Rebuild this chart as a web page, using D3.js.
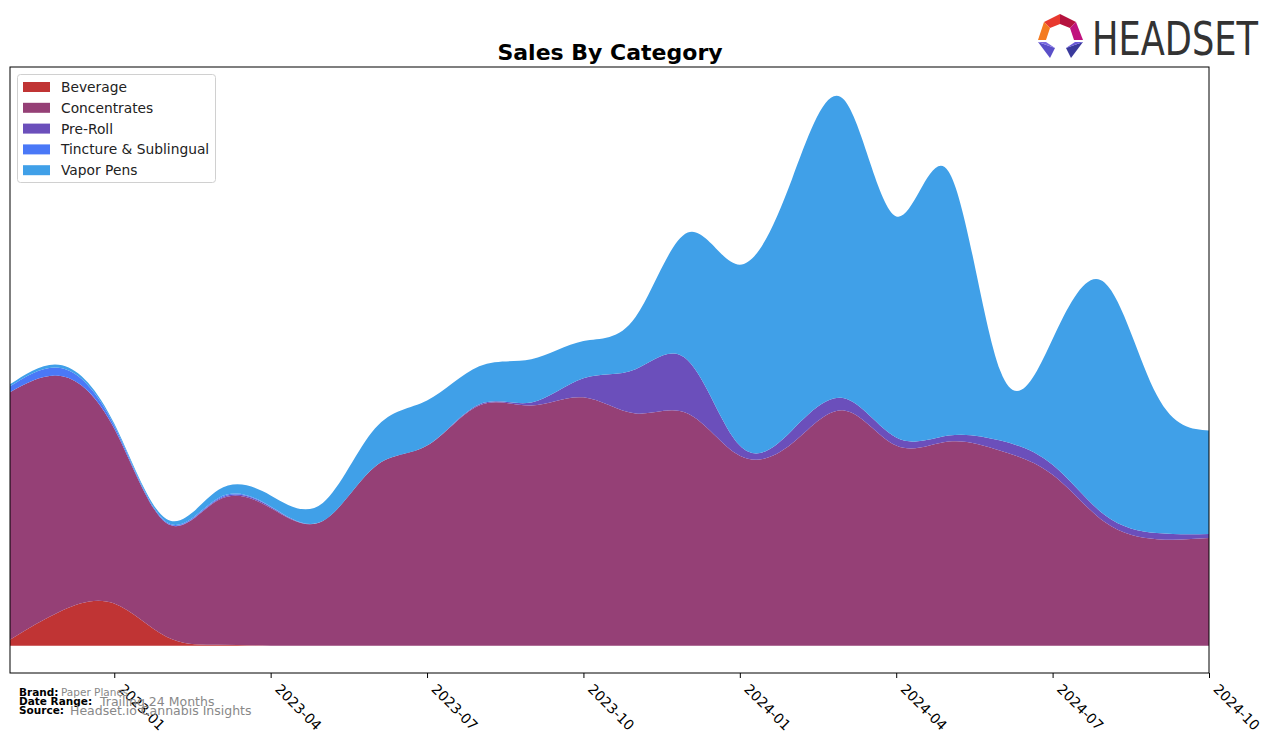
<!DOCTYPE html>
<html>
<head>
<meta charset="utf-8">
<script src="https://cdn.jsdelivr.net/npm/d3@7"></script>
<style>
  body { margin: 0; background: #fff; }
  svg { display: block; font-family: "DejaVu Sans", sans-serif; }
</style>
</head>
<body>
<svg id="chart" width="1276" height="743"></svg>
<script>
// ---------- data (monthly, 2022-11 .. 2024-10) ----------
const months = ["2022-11","2022-12","2023-01","2023-02","2023-03","2023-04","2023-05","2023-06",
  "2023-07","2023-08","2023-09","2023-10","2023-11","2023-12","2024-01","2024-02","2024-03",
  "2024-04","2024-05","2024-06","2024-07","2024-08","2024-09","2024-10"];
const categories = ["Beverage","Concentrates","Pre-Roll","Tincture & Sublingual","Vapor Pens"];
const beverage     = [6, 35, 42, 9, 1, 0, 0, 0, 0, 0, 0, 0, 0, 0, 0, 0, 0, 0, 0, 0, 0, 0, 0, 0];
const concentrates = [246, 233, 174, 113, 144, 137, 124, 178, 199, 239, 239, 247, 231, 231, 189, 201, 234, 199, 203, 194, 170, 123, 106, 107];
const preRoll      = [0, 0, 0, 0, 1, 1, 0, 0, 0, 1, 3, 19, 44, 53, 10, 13, 12, 8, 6, 10, 10, 7, 6, 4];
const tincture     = [6, 8, 3, 1, 1, 0.5, 0, 0, 0, 0, 0, 0, 0, 0, 0, 0, 0, 0, 0, 0, 0, 0, 0, 0];
const vaporPens    = [2, 3, 2, 3, 8, 11, 18, 38, 45, 38, 43, 37, 52, 127, 180, 250, 297, 220, 263, 69, 125, 231, 137, 103];
const tickMonths   = ["2023-01","2023-04","2023-07","2023-10","2024-01","2024-04","2024-07","2024-10"];
const colors = ["#c03434", "#954076", "#6b4fbb", "#4a78f7", "#40a0e8"];

const seriesArrays = [beverage, concentrates, preRoll, tincture, vaporPens];
const table = months.map((m, i) => {
  const row = { i: i, month: m };
  categories.forEach((c, k) => row[c] = seriesArrays[k][i]);
  return row;
});

// ---------- layout ----------
const svg = d3.select("#chart");
const L = 10, R = 1209, T = 67, B = 673;

const x = d3.scaleLinear().domain([0, months.length - 1]).range([L, R]);
const stacked = d3.stack().keys(categories)(table);
const maxTotal = d3.max(stacked[stacked.length - 1], d => d[1]);
const y = d3.scaleLinear().domain([-0.05 * maxTotal, 1.06 * maxTotal]).range([B, T]);

svg.append("defs").append("clipPath").attr("id", "clip")
  .append("rect").attr("x", L).attr("y", T).attr("width", R - L).attr("height", B - T);

const area = d3.area()
  .x(d => x(d.data.i))
  .y0(d => y(d[0]))
  .y1(d => y(d[1]))
  .curve(d3.curveNatural);

svg.append("g").attr("clip-path", "url(#clip)")
  .selectAll("path").data(stacked).join("path")
  .attr("d", area)
  .attr("fill", (d, k) => colors[k]);

// frame
svg.append("rect").attr("x", L).attr("y", T).attr("width", R - L).attr("height", B - T)
  .attr("fill", "none").attr("stroke", "#000").attr("stroke-width", 1);

// x axis
const tickIdx = tickMonths.map(t => months.indexOf(t));
const xAxis = d3.axisBottom(x).tickValues(tickIdx).tickFormat(i => months[i]).tickSize(5).tickPadding(4);
const gx = svg.append("g").attr("transform", `translate(0,${B})`).call(xAxis);
gx.select(".domain").remove();
gx.selectAll(".tick line").attr("stroke", "#000");
gx.selectAll(".tick text")
  .attr("font-size", 14).attr("fill", "#000")
  .attr("font-family", "DejaVu Sans, sans-serif")
  .attr("text-anchor", "start")
  .attr("x", 0).attr("y", 0).attr("dy", "0")
  .attr("transform", "translate(3,17) rotate(45)");

// title
svg.append("text").attr("x", 610).attr("y", 60).attr("text-anchor", "middle")
  .attr("font-size", 22).attr("font-weight", "bold").attr("fill", "#000")
  .text("Sales By Category");

// legend
const lg = svg.append("g");
lg.append("rect").attr("x", 17.5).attr("y", 74.5).attr("width", 198).attr("height", 108)
  .attr("rx", 3).attr("fill", "#fff").attr("fill-opacity", 0.8).attr("stroke", "#d0d0d0");
categories.forEach((c, k) => {
  const yy = 87 + k * 20.8;
  lg.append("rect").attr("x", 23).attr("y", yy - 5).attr("width", 27).attr("height", 10).attr("fill", colors[k]);
  lg.append("text").attr("x", 61).attr("y", yy + 5).attr("font-size", 13.8).attr("fill", "#222").text(c);
});

// footer
const foot = [["Brand:", "Paper Planes", 61, 10.5], ["Date Range:", "Trailing 24 Months", 100, 12.5], ["Source:", "Headset.io Cannabis Insights", 70, 12.5]];
foot.forEach((f, k) => {
  const yy = 696 + k * 9;
  svg.append("text").attr("x", 19).attr("y", yy).attr("font-size", 10.5).attr("font-weight", "bold").attr("fill", "#000").text(f[0]);
  svg.append("text").attr("x", f[2]).attr("y", yy + (k ? 1 : 0)).attr("font-size", f[3]).attr("fill", "#888").text(f[1]);
});

// logo
const logo = svg.append("g");
const polys = [
  ["#e8392f", [[1044,22],[1060,14],[1060,24],[1050,28]]],
  ["#b5123e", [[1060,14],[1076,22],[1070,28],[1060,24]]],
  ["#c0127e", [[1076,22],[1083,40],[1074,40],[1070,28]]],
  ["#f47b20", [[1044,22],[1050,28],[1046,40],[1038,40]]],
  ["#5a4fc8", [[1038,42],[1055,48],[1050,58]]],
  ["#3a3a9c", [[1083,42],[1066,48],[1071,58]]],
  ["#7a6ae0", [[1038,42],[1046,42],[1055,48]]],
  ["#6a5ad8", [[1083,42],[1075,42],[1066,48]]]
];
polys.forEach(p => logo.append("polygon").attr("points", p[1].map(q => q.join(",")).join(" ")).attr("fill", p[0]));
logo.append("text").attr("x", 1092).attr("y", 55).attr("font-size", 46)
  .attr("font-family", "DejaVu Sans Condensed, Liberation Sans Narrow, sans-serif")
  .attr("fill", "#333").attr("textLength", 166).attr("lengthAdjust", "spacingAndGlyphs").text("HEADSET");
</script>
</body>
</html>
